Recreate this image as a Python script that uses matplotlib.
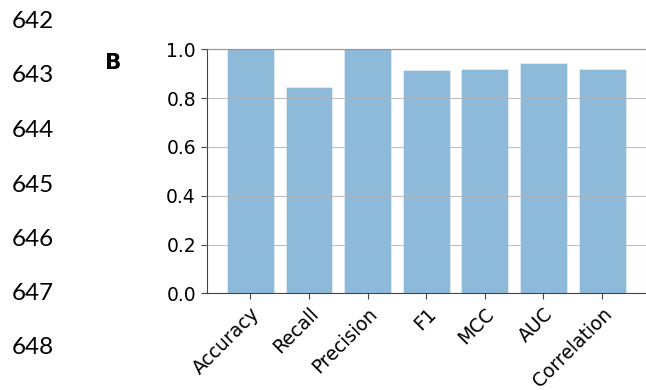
import matplotlib
matplotlib.use("Agg")
import matplotlib.pyplot as plt

# Classification metrics for panel B
metrics = ["Accuracy", "Recall", "Precision", "F1", "MCC", "AUC", "Correlation"]
scores = [1.0, 0.844, 1.0, 0.915, 0.918, 0.943, 0.918]

# Manuscript line numbers shown in the left margin
line_numbers = ["642", "643", "644", "645", "646", "647", "648"]
line_number_y = [22, 75, 131, 185, 240, 294, 347]  # pixel rows from the top

W, H, DPI = 646, 390, 100
fig = plt.figure(figsize=(W / DPI, H / DPI), dpi=DPI)

left, right, top, bottom = 207.0, 645.5, 49.3, 293.3
ax = fig.add_axes([left / W, 1 - bottom / H, (right - left) / W, (bottom - top) / H])

ax.bar(metrics, scores, width=0.8, color="tab:blue", alpha=0.5,
       edgecolor="white", linewidth=0.6)
ax.set_ylim(0, 1.0)
ax.set_yticks([0.0, 0.2, 0.4, 0.6, 0.8, 1.0])
ax.yaxis.grid(True, color="#b0b0b0", linewidth=0.8, alpha=0.8)
ax.set_axisbelow(False)
ax.tick_params(labelsize=13.5, length=4.5, width=0.8, color="#444444")
plt.setp(ax.get_xticklabels(), rotation=45, ha="right", rotation_mode="anchor")

for s in ax.spines.values():
    s.set_color("#444444")
ax.spines["right"].set_color("#dddddd")

fig.text(105 / W, 1 - 63 / H, "B", fontsize=15.5, fontweight="bold",
         ha="left", va="center")

for lab, yy in zip(line_numbers, line_number_y):
    fig.text(12 / W, 1 - yy / H, lab, fontsize=17.5, family="Lato",
             ha="left", va="center")

fig.savefig("out.png", dpi=DPI)
